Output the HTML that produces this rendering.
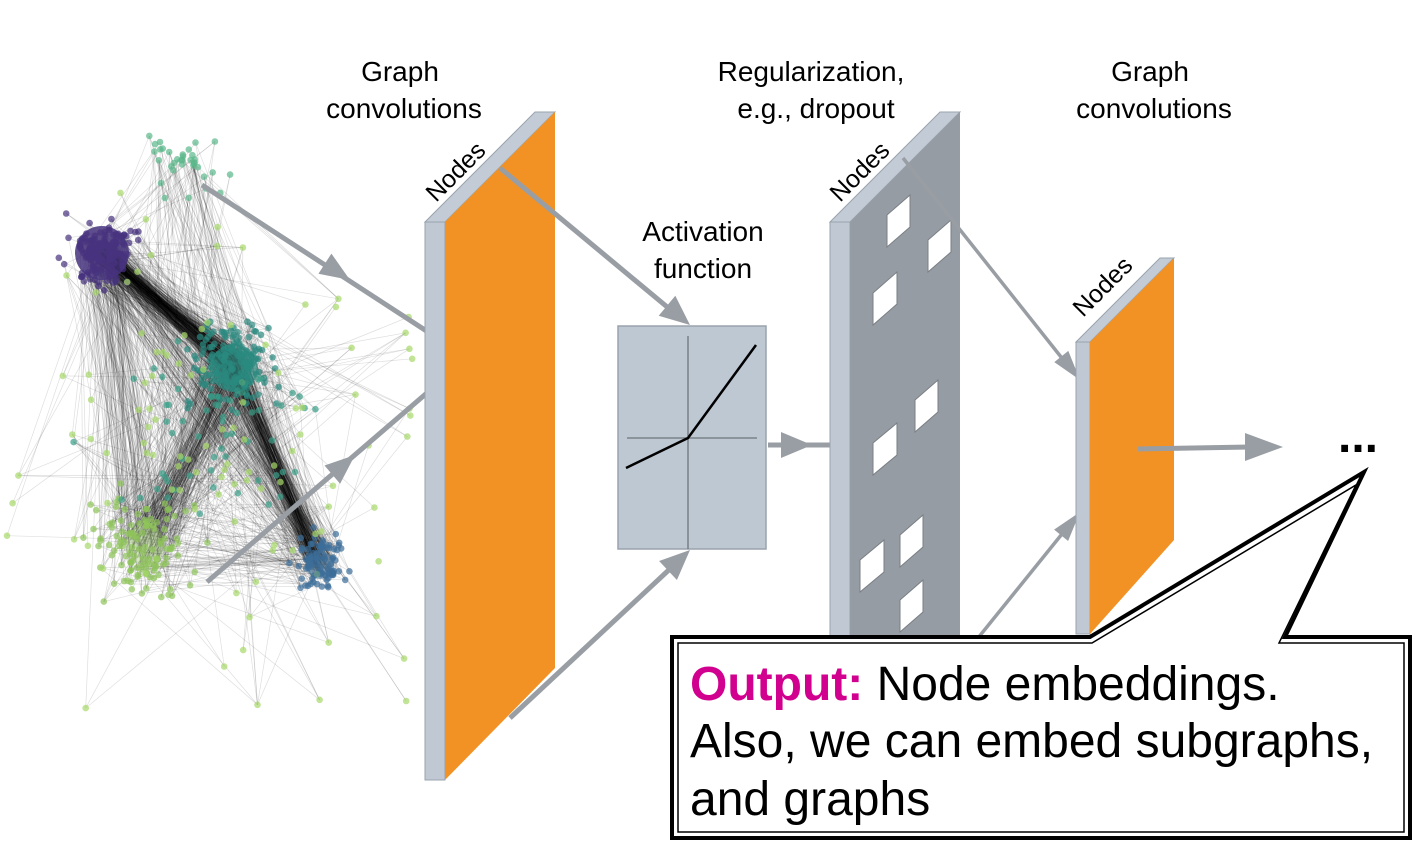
<!DOCTYPE html>
<html><head><meta charset="utf-8"><style>
html,body{margin:0;padding:0;background:#fff;}
body{width:1422px;height:847px;overflow:hidden;position:relative;font-family:"Liberation Sans",Arial,sans-serif;}
svg{position:absolute;left:0;top:0;}
svg text{font-family:"Liberation Sans",Arial,sans-serif;}
</style></head><body>
<svg id="s" width="1422" height="847" viewBox="0 0 1422 847" xmlns="http://www.w3.org/2000/svg">
<g id="net"></g>
<!-- arrows graph -> layer1 -->
<g stroke="#999ea4" stroke-width="5" fill="none">
<line x1="202" y1="185" x2="428" y2="332"/>
<line x1="207" y1="582" x2="428" y2="392"/>
</g>
<polygon points="350,280 318.4,273.8 331.4,253.6" fill="#999ea4"/>
<polygon points="355,455 340.1,483.7 324.5,465.5" fill="#999ea4"/>
<!-- Layer 1 -->
<polygon points="425,222 535,112 555,112 445,222" fill="#c3ccd6" stroke="#9aa3ad"/>
<polygon points="425,222 445,222 445,780 425,780" fill="#c0c9d3" stroke="#9aa3ad"/>
<polygon points="445,222 555,112 555,668 445,780" fill="#f39224"/>
<text x="0" y="0" font-size="25" transform="translate(436,203) rotate(-45)" fill="#000">Nodes</text>
<!-- arrows layer1 -> activation -->
<g stroke="#999ea4" stroke-width="5" fill="none">
<line x1="500" y1="168" x2="672" y2="311"/>
<line x1="510" y1="718" x2="672" y2="567"/>
</g>
<polygon points="690,325 658.7,315.8 675.3,295.8" fill="#999ea4"/>
<polygon points="690,550 676.9,580 659.1,561" fill="#999ea4"/>
<!-- activation box -->
<rect x="618" y="326" width="148" height="223" fill="#bec8d3" stroke="#9aa3ad" stroke-width="1.5"/>
<line x1="688" y1="336" x2="688" y2="549" stroke="#6e747a" stroke-width="1.3"/>
<line x1="627" y1="438" x2="757" y2="438" stroke="#6e747a" stroke-width="1.3"/>
<polyline points="626,468 688,438 756,345" fill="none" stroke="#000" stroke-width="2.5"/>
<!-- arrow activation -> dropout -->
<line x1="768" y1="445" x2="830" y2="445" stroke="#999ea4" stroke-width="5"/>
<path d="M781,432 L812,445 L781,458 Z" fill="#999ea4"/>
<!-- Layer 2 dropout -->
<polygon points="830,222 940,112 960,112 850,222" fill="#c3ccd6" stroke="#9aa3ad"/>
<polygon points="830,222 850,222 850,640 830,640" fill="#c0c9d3" stroke="#9aa3ad"/>
<polygon points="850,222 960,112 960,640 850,640" fill="#969ca3"/>
<g fill="#fff" stroke="#7a7f85" stroke-width="1">
<polygon points="887,215 910,195 910,227 887,247"/>
<polygon points="928,240 951,220 951,252 928,272"/>
<polygon points="873,293 897,272 897,304 873,325"/>
<polygon points="915,400 938,380 938,412 915,432"/>
<polygon points="873,443 897,423 897,455 873,475"/>
<polygon points="900,535 923,515 923,547 900,567"/>
<polygon points="860,560 884,540 884,572 860,592"/>
<polygon points="900,600 923,580 923,612 900,632"/>
</g>
<text x="0" y="0" font-size="25" transform="translate(840,203) rotate(-45)" fill="#000">Nodes</text>
<!-- arrows dropout -> layer3 -->
<g stroke="#999ea4" stroke-width="3.5" fill="none">
<line x1="903" y1="158" x2="1065" y2="362"/>
<line x1="978" y1="638" x2="1066" y2="529"/>
</g>
<polygon points="1080,380 1054.3,362.1 1068.3,350.9" fill="#999ea4"/>
<polygon points="1080,512 1068.1,541 1054.1,529.6" fill="#999ea4"/>
<!-- Layer 3 -->
<polygon points="1076,342 1160,258 1174,258 1090,342" fill="#c3ccd6" stroke="#9aa3ad"/>
<polygon points="1076,342 1090,342 1090,634 1076,634" fill="#c0c9d3" stroke="#9aa3ad"/>
<polygon points="1090,342 1174,258 1174,540 1090,634" fill="#f39224"/>
<text x="0" y="0" font-size="25" transform="translate(1083,318) rotate(-45)" fill="#000">Nodes</text>
<!-- output arrow -->
<line x1="1138" y1="449" x2="1250" y2="447" stroke="#999ea4" stroke-width="5"/>
<path d="M1245,433 L1283,447 L1245,461 Z" fill="#999ea4"/>
<text x="1338" y="452" font-size="48" font-weight="bold" fill="#000">...</text>
<!-- callout -->
<path d="M672,637 L1090,637 L1364,472 L1285,637 L1410,637 L1410,838 L672,838 Z" fill="#fff" stroke="#000" stroke-width="4"/>
<path d="M678,643 L1092,643 L1356,485 L1279,643 L1404,643 L1404,832 L678,832 Z" fill="none" stroke="#000" stroke-width="1.5"/>
<!-- labels -->
<g font-size="28" fill="#000" text-anchor="middle">
<text x="400" y="81">Graph</text>
<text x="404" y="118">convolutions</text>
<text x="703" y="241">Activation</text>
<text x="703" y="278">function</text>
<text x="811" y="81">Regularization,</text>
<text x="816" y="118">e.g., dropout</text>
<text x="1150" y="81">Graph</text>
<text x="1154" y="118">convolutions</text>
</g>
<g font-size="48" fill="#000">
<text x="690" y="700"><tspan fill="#d1008f" font-weight="bold">Output:</tspan> Node embeddings.</text>
<text x="690" y="757">Also, we can embed subgraphs,</text>
<text x="690" y="815">and graphs</text>
</g>
</svg>
<script>
(function(){
var seed=11;function r(){seed=(seed*16807)%2147483647;return seed/2147483647;}
function g(){return (r()+r()+r()-1.5)/1.5;}
var cl=[
 {x:102,y:253,s:28,n:160,c:"#46327e"},
 {x:232,y:365,s:38,n:160,c:"#2a8a80"},
 {x:145,y:545,s:45,n:120,c:"#8fc45a"},
 {x:320,y:565,s:26,n:80,c:"#3c6e9a"},
 {x:185,y:160,s:40,n:35,c:"#5ab88a"},
 {x:200,y:440,s:90,n:60,c:"#3aa089"},
 {x:230,y:420,s:200,n:110,c:"#a6d96a"}
];
var pts=[];
cl.forEach(function(c){for(var i=0;i<c.n;i++){var x=c.x+g()*c.s*1.6,y=c.y+g()*c.s*1.6;if(x<2)x=2+r()*20;if(x>415)x=415-r()*20;if(y<95)y=95+r()*20;if(y>735)y=735-r()*20;pts.push({x:x,y:y,c:c.c});}});
var net=document.getElementById("net"),h="";
for(var i=0;i<1300;i++){var p=pts[Math.floor(r()*pts.length)],q=pts[Math.floor(r()*pts.length)];
 h+='<line x1="'+p.x.toFixed(1)+'" y1="'+p.y.toFixed(1)+'" x2="'+q.x.toFixed(1)+'" y2="'+q.y.toFixed(1)+'" stroke="#000" stroke-opacity="0.13" stroke-width="0.7"/>';}
for(var i=0;i<500;i++){var a,b;
 if(i<250){a={x:102+g()*18,y:253+g()*18};b={x:232+g()*25,y:365+g()*25};}
 else if(i<420){a={x:232+g()*25,y:365+g()*25};b={x:320+g()*18,y:565+g()*18};}
 else {a={x:232+g()*30,y:370+g()*30};b={x:150+g()*35,y:540+g()*35};}
 h+='<line x1="'+a.x.toFixed(1)+'" y1="'+a.y.toFixed(1)+'" x2="'+b.x.toFixed(1)+'" y2="'+b.y.toFixed(1)+'" stroke="#000" stroke-opacity="0.15" stroke-width="0.8"/>';}
pts.forEach(function(p){h+='<circle cx="'+p.x.toFixed(1)+'" cy="'+p.y.toFixed(1)+'" r="3.3" fill="'+p.c+'" fill-opacity="0.7"/>';});
h+='<circle cx="102" cy="253" r="27" fill="#46327e" fill-opacity="0.85"/>';
h+='<circle cx="234" cy="368" r="24" fill="#2a8a80" fill-opacity="0.7"/>';
h+='<circle cx="320" cy="565" r="14" fill="#3c6e9a" fill-opacity="0.6"/>';
h+='<circle cx="145" cy="545" r="20" fill="#8fc45a" fill-opacity="0.35"/>';
net.innerHTML=h;
})();
</script>
</body></html>
